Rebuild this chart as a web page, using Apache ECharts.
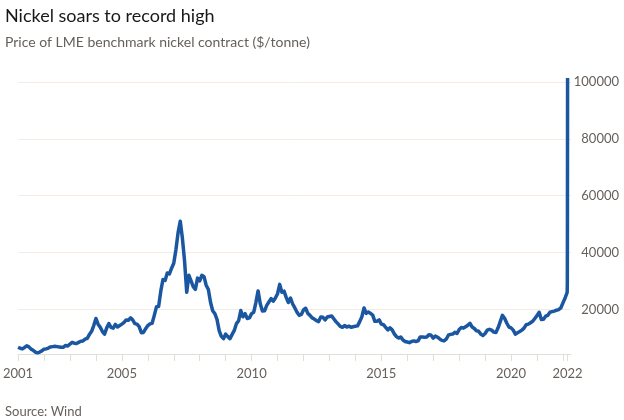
<!DOCTYPE html>
<html>
<head>
<meta charset="utf-8">
<script src="https://cdn.jsdelivr.net/npm/echarts@6/dist/echarts.min.js"></script>
<style>
html,body{margin:0;padding:0;background:#ffffff;}
#chart{width:624px;height:420px;}
</style>
</head>
<body>
<div id="chart"></div>
<script>
// Monthly LME nickel price ($/tonne), Jan 2001 .. Feb 2022
var startYear = 2001;
var monthlyPrices = [
  // 2001
  6700, 6300, 6100, 6600, 7200, 6800, 6000, 5600, 5000, 4700, 5000, 5400,
  // 2002
  6000, 6100, 6400, 6800, 6900, 7000, 6900, 6800, 6700, 6700, 7300, 7100,
  // 2003
  7800, 8400, 8100, 8000, 8400, 8800, 8900, 9500, 9800, 11200, 12300, 14300,
  // 2004
  16800, 14800, 13700, 12200, 11300, 13500, 15000, 13700, 13400, 14700, 13800, 14300,
  // 2005
  14800, 15400, 16300, 16200, 17000, 16300, 15000, 14800, 13900, 11800, 11900, 13200,
  // 2006
  14300, 14900, 15100, 17900, 20900, 21000, 26400, 30500, 30200, 32800, 32500, 34500,
  // 2007
  36200, 41000, 47000, 51000, 45000, 37000, 26000, 32000, 30000, 28000, 27000, 31000,
  // 2008
  30000, 32000, 31500, 28500, 27000, 22500, 19500, 18500, 16500, 12500, 10500, 9700,
  // 2009
  11300, 10400, 9700, 11200, 12600, 15000, 16000, 19600, 17400, 18500, 16800, 17000,
  // 2010
  18500, 19000, 22500, 26500, 22000, 19400, 19500, 21400, 22600, 23800, 22900, 24000,
  // 2011
  25500, 28800, 26000, 26400, 24200, 22400, 24000, 21900, 20500, 19000, 17900, 18200,
  // 2012
  19800, 20400, 18600, 17900, 17000, 16600, 16000, 15700, 17300, 17200, 16300, 17300,
  // 2013
  17500, 17700, 16700, 15700, 14900, 14000, 13700, 14300, 13800, 14100, 13700, 13900,
  // 2014
  14100, 14200, 15700, 17400, 20500, 18600, 19100, 18600, 18000, 15800, 15800, 16300,
  // 2015
  14800, 14600, 13700, 12800, 13500, 12800, 11400, 10400, 9900, 10300, 9200, 8700,
  // 2016
  8500, 8300, 8700, 8900, 8700, 8900, 10300, 10300, 10200, 10300, 11100, 10900,
  // 2017
  9900, 10600, 10200, 9600, 9100, 8900, 9500, 10900, 11200, 11300, 11900, 11500,
  // 2018
  12900, 13600, 13400, 13900, 14400, 15100, 13800, 13300, 12500, 12300, 11300, 10800,
  // 2019
  11500, 12700, 13000, 12700, 12000, 11900, 13500, 15700, 17900, 16900, 15200, 13800,
  // 2020
  13500, 12700, 11300, 11800, 12200, 12700, 13400, 14600, 14800, 15300, 15800, 16800,
  // 2021
  17800, 19000, 16400, 16500, 17600, 17900, 19000, 19200, 19400, 19700, 19900, 20500,
  // 2022
  22300, 24000
];
// March 2022 short squeeze (decimal year, price)
var spikeDates  = [2022.163, 2022.168, 2022.172, 2022.178];
var spikePrices = [26000, 29000, 48000, 101365];

var tickYears  = [2001,2002,2003,2004,2005,2006,2007,2008,2009,2010,2011,2012,2013,2014,2015,2016,2017,2018,2019,2020,2021,2022,2022.178];
var labelYears = [2001, 2005, 2010, 2015, 2020, 2022.178];
var yTicks = [20000, 40000, 60000, 80000, 100000];

var seriesData = [];
for (var i = 0; i < monthlyPrices.length; i++) {
  seriesData.push([startYear + i / 12, monthlyPrices[i]]);
}
for (var j = 0; j < spikeDates.length; j++) {
  seriesData.push([spikeDates[j], spikePrices[j]]);
}

var FONT = 'Lato, "Open Sans", sans-serif';
var chart = echarts.init(document.getElementById('chart'), null, {renderer: 'canvas'});
chart.setOption({
  backgroundColor: '#ffffff',
  animation: false,
  textStyle: {fontFamily: FONT},
  title: [
    {text: 'Nickel soars to record high', left: 0, top: 2,
     textStyle: {fontFamily: FONT, fontSize: 18, fontWeight: 'normal', color: '#1a1817'}},
    {text: 'Price of LME benchmark nickel contract ($/tonne)', left: 0, top: 30,
     textStyle: {fontFamily: FONT, fontSize: 14, fontWeight: 'normal', color: '#66605c'}},
    {text: 'Source: Wind', left: 0, top: 400,
     textStyle: {fontFamily: FONT, fontSize: 13, fontWeight: 'normal', color: '#66605c'}}
  ],
  grid: {left: 14, right: 53, top: 82, bottom: 66, containLabel: false},
  xAxis: {
    type: 'value', min: 2001, max: 2022.31,
    axisLine: {show: true, lineStyle: {color: '#e4ded8', width: 1}},
    axisTick: {show: true, length: 7, customValues: tickYears, lineStyle: {color: '#e4ded8'}},
    axisLabel: {customValues: labelYears, margin: 13, fontSize: 13, color: '#66605c', fontFamily: FONT,
      formatter: function (v) { return String(Math.floor(v + 1e-6)); }},
    splitLine: {show: false}
  },
  yAxis: {
    type: 'value', position: 'right', min: 4300, max: 100000,
    axisLine: {show: false}, axisTick: {show: false},
    axisLabel: {customValues: yTicks, align: 'right', margin: 48, fontSize: 13, color: '#66605c', fontFamily: FONT,
      formatter: function (v) { return String(Math.round(v)); }},
    splitLine: {show: true, lineStyle: {color: '#f3ebe4', width: 1}}
  },
  series: [{
    type: 'line', data: seriesData, showSymbol: false, clip: false,
    lineStyle: {color: '#1a57a0', width: 3.5, join: 'round'}
  }]
});
</script>
</body>
</html>
